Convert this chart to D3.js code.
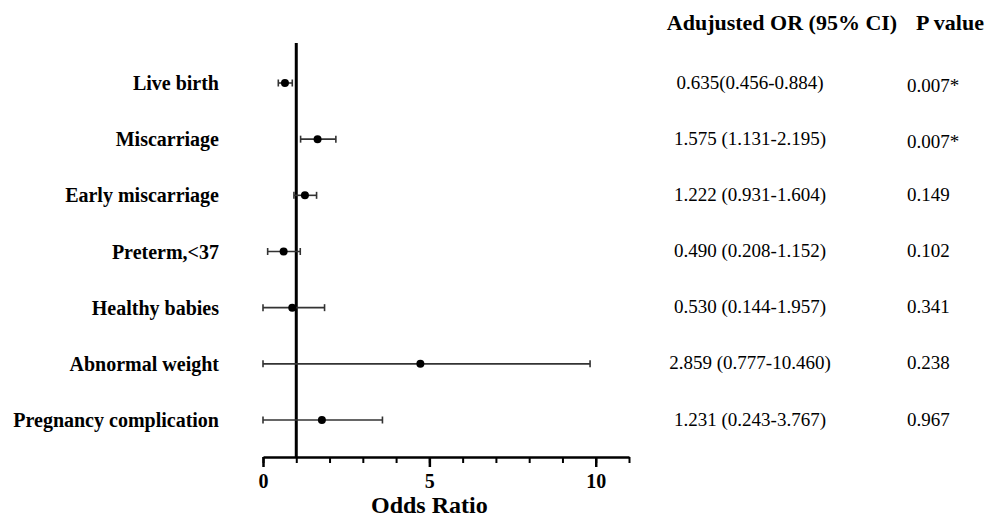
<!DOCTYPE html>
<html>
<head>
<meta charset="utf-8">
<script src="https://cdn.jsdelivr.net/npm/d3@7"></script>
<style>
  body { margin: 0; background: #fff; }
  svg text { font-family: "Liberation Serif", "Times New Roman", serif; fill: #000; }
</style>
</head>
<body>
<div id="chart"></div>
<script>
//outcomes, top to bottom
const outcomes = ["Live birth", "Miscarriage", "Early miscarriage", "Preterm,<37",
  "Healthy babies", "Abnormal weight", "Pregnancy complication"];

//values as plotted in the figure
const orPoint = [0.66, 1.64, 1.26, 0.62, 0.88, 4.73, 1.77];
const ciLow = [0.46, 1.13, 0.93, 0.14, 0.0, 0.0, 0.0];
const ciHigh = [0.88, 2.19, 1.61, 1.12, 1.85, 9.83, 3.59];

//table columns
const orText = ["0.635(0.456-0.884)", "1.575 (1.131-2.195)", "1.222 (0.931-1.604)",
  "0.490 (0.208-1.152)", "0.530 (0.144-1.957)", "2.859 (0.777-10.460)", "1.231 (0.243-3.767)"];
const pText = ["0.007*", "0.007*", "0.149", "0.102", "0.341", "0.238", "0.967"];

const xTicks = [0, 5, 10];

const width = 987, height = 519;

const svg = d3.select("#chart").append("svg")
  .attr("width", width)
  .attr("height", height);

//scales
const x = d3.scaleLinear().domain([0, 11]).range([263, 629]);
const y = d3.scalePoint().domain(outcomes).range([83, 420]);

const axisY = 457;

//x axis with minor ticks every 1 and labels at 0,5,10
const minor = svg.append("g")
  .attr("transform", `translate(0,${axisY})`)
  .call(d3.axisBottom(x).tickValues(d3.range(0, 12)).tickSize(6).tickFormat(""));
minor.select(".domain").remove();
minor.selectAll("line").attr("stroke", "#000").attr("stroke-width", 2);

const major = svg.append("g")
  .attr("transform", `translate(0,${axisY})`)
  .call(d3.axisBottom(x).tickValues(xTicks).tickSize(10).tickSizeOuter(0).tickPadding(7));
major.select(".domain").attr("stroke", "#000").attr("stroke-width", 2.5);
major.selectAll("line").attr("stroke", "#000").attr("stroke-width", 2.5);
major.selectAll("text")
  .style("font-family", "'Liberation Serif', serif")
  .style("font-weight", "bold")
  .style("font-size", "20px")
  .attr("fill", "#000");

svg.append("text")
  .attr("x", x(5))
  .attr("y", 513)
  .attr("text-anchor", "middle")
  .style("font-weight", "bold")
  .style("font-size", "24px")
  .text("Odds Ratio");

//reference line at OR = 1
svg.append("line")
  .attr("x1", x(1)).attr("x2", x(1))
  .attr("y1", 43).attr("y2", axisY)
  .attr("stroke", "#000")
  .attr("stroke-width", 3);

//category labels
svg.append("g").selectAll("text")
  .data(outcomes)
  .join("text")
  .attr("x", 219)
  .attr("y", d => y(d))
  .attr("dy", "0.35em")
  .attr("text-anchor", "end")
  .style("font-weight", "bold")
  .style("font-size", "20px")
  .text(d => d);

//error bars and points
const rows = outcomes.map((d, i) => ({ name: d, or: orPoint[i], lo: ciLow[i], hi: ciHigh[i] }));
const g = svg.append("g").selectAll("g")
  .data(rows)
  .join("g")
  .attr("transform", d => `translate(0,${y(d.name)})`);

g.append("line")
  .attr("x1", d => x(d.lo)).attr("x2", d => x(d.hi))
  .attr("stroke", "#333").attr("stroke-width", 1.6);
g.append("line")
  .attr("x1", d => x(d.lo)).attr("x2", d => x(d.lo))
  .attr("y1", -3.5).attr("y2", 3.5)
  .attr("stroke", "#333").attr("stroke-width", 1.6);
g.append("line")
  .attr("x1", d => x(d.hi)).attr("x2", d => x(d.hi))
  .attr("y1", -3.5).attr("y2", 3.5)
  .attr("stroke", "#333").attr("stroke-width", 1.6);
g.append("circle")
  .attr("cx", d => x(d.or))
  .attr("r", 4)
  .attr("fill", "#000");

//table headers
svg.append("text")
  .attr("x", 782).attr("y", 30)
  .attr("text-anchor", "middle")
  .style("font-weight", "bold").style("font-size", "22px")
  .text("Adujusted OR (95% CI)");
svg.append("text")
  .attr("x", 950).attr("y", 30)
  .attr("text-anchor", "middle")
  .style("font-weight", "bold").style("font-size", "22px")
  .text("P value");

//table values
svg.append("g").selectAll("text")
  .data(orText)
  .join("text")
  .attr("x", 750)
  .attr("y", (d, i) => y(outcomes[i]) - 1)
  .attr("dy", "0.35em")
  .attr("text-anchor", "middle")
  .style("font-size", "19px")
  .text(d => d);

svg.append("g").selectAll("text")
  .data(pText)
  .join("text")
  .attr("x", 907)
  .attr("y", (d, i) => y(outcomes[i]) + (i < 2 ? 2 : -1))
  .attr("dy", "0.35em")
  .attr("text-anchor", "start")
  .style("font-size", "19px")
  .text(d => d);
</script>
</body>
</html>
